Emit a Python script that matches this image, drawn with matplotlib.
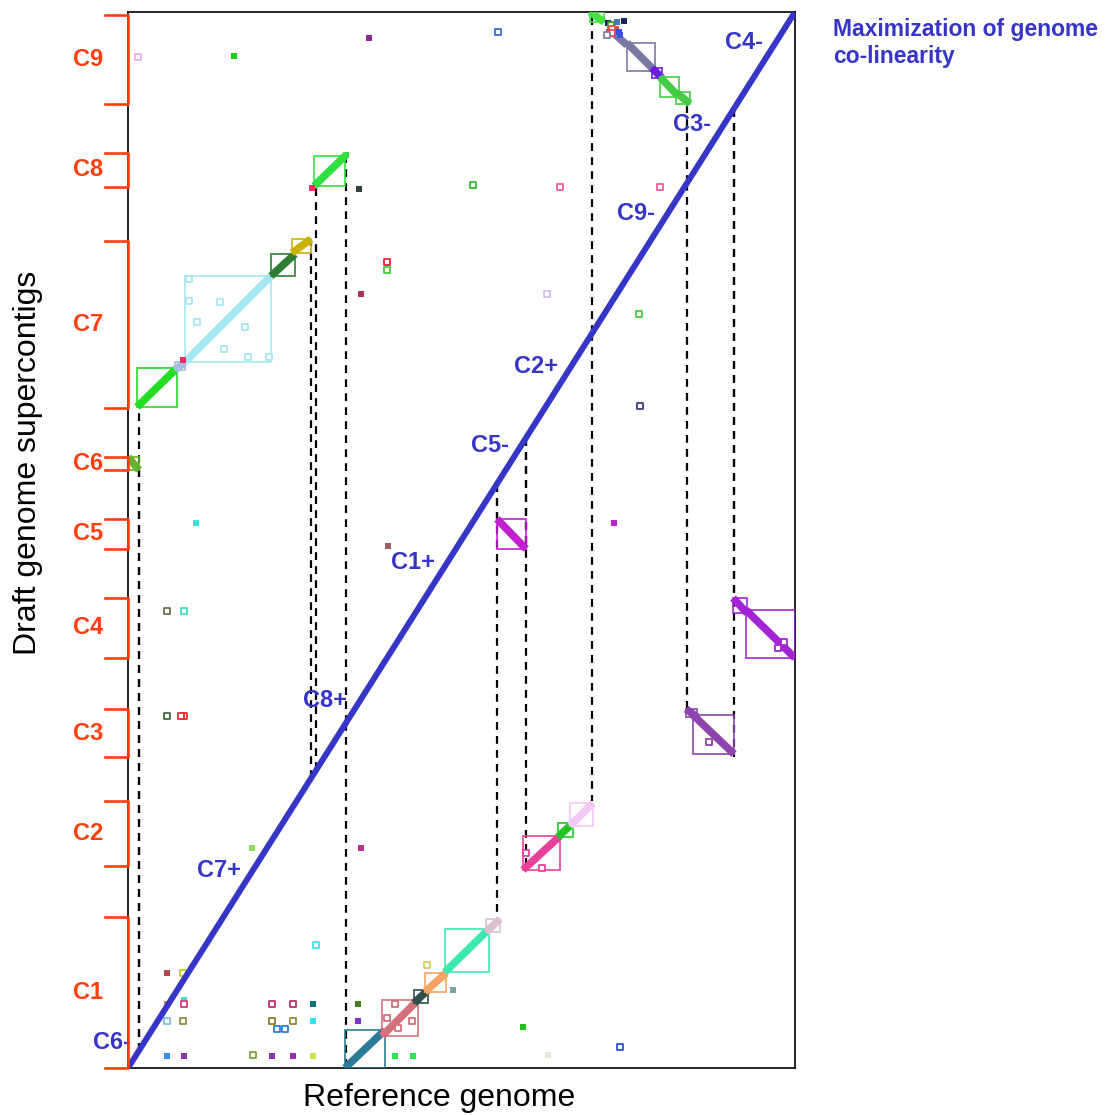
import numpy as np
import matplotlib
matplotlib.use("Agg")
import matplotlib.pyplot as plt
from matplotlib.patches import Rectangle

plt.rcParams['font.family'] = ['Liberation Sans', 'DejaVu Sans']

# all positions in layout units (~10 kb per unit)
REF_LEN = 667
DRAFT_LEN = 1056

# draft supercontigs stacked on the y axis
draft_names = ['C1', 'C2', 'C3', 'C4', 'C5', 'C6', 'C7', 'C8', 'C9']
draft_start = [0, 202, 311, 410, 519, 598, 660, 881, 964]
draft_end = [151, 267, 359, 470, 549, 611, 827, 915, 1053]

# order found along the reference (co-linearity maximized)
ref_names = ['C6-', 'C7+', 'C8+', 'C1+', 'C5-', 'C2+', 'C9-', 'C3-', 'C4-']
ref_start = [0, 11, 188, 218, 369, 398, 464, 559, 606]
ref_end = [11, 183, 218, 369, 398, 464, 559, 606, 667]
ref_label_at = [16, 125, 232, 319, 393, 443, 540, 596, 648]

# aligned blocks: ref x0 -> x1, draft y0 -> y1
blk_x0 = [0, 9, 47, 57, 143, 164, 186, 217, 254, 286, 297, 317, 358, 369,
          395, 430, 442, 462, 482, 499, 524, 532, 548, 558, 565, 605, 618]
blk_x1 = [11, 49, 57, 143, 167, 183, 217, 257, 290, 300, 318, 361, 372, 398,
          432, 445, 465, 476, 499, 527, 534, 551, 562, 569, 606, 619, 667]
blk_y0 = [611, 661, 698, 706, 792, 815, 882, 0, 32, 65, 76, 96, 136, 549,
          198, 231, 242, 1056, 1038, 1025, 1000, 991, 976, 359, 353, 470, 458]
blk_y1 = [598, 700, 706, 792, 814, 829, 912, 38, 68, 78, 95, 139, 149, 519,
          232, 245, 265, 1046, 1023, 997, 990, 971, 964, 351, 314, 455, 410]
blk_col = ['#62b52a', '#22dd22', '#a8bce0', '#a6e6f2', '#2e7d32', '#c8b400',
           '#2ee040', '#2b7b98', '#d4707c', '#2f4f4f', '#f4a460', '#3de8b0',
           '#dcc0d0', '#c21fd0', '#e8409a', '#22c522', '#f4c8f4', '#44e044',
           '#7a78a0', '#7a78a0', '#6a1ee0', '#44cc44', '#44cc44', '#8e44ad',
           '#8e44ad', '#a224d4', '#a224d4']
blk_box = [True] * len(blk_x0)
blk_box[18] = False

# small stray hits (filled squares)
dot_x = [39, 39, 56, 39, 56, 185, 185, 144, 165, 185, 230, 230, 267, 285,
         325, 395, 420, 68, 260, 486, 124, 233, 233, 231, 106, 241, 480, 489,
         496, 488, 481, 488, 491, 492, 55, 184, 218]
dot_y = [95, 64, 68, 12, 12, 64, 47, 12, 12, 12, 64, 47, 12, 12,
         78, 41, 13, 545, 522, 545, 220, 220, 774, 879, 1012, 1030, 1045, 1046,
         1047, 1039, 1036, 1036, 1036, 1033, 708, 880, 913]
dot_c = ['#b04848', '#e08070', '#40e0d0', '#3090f0', '#9030b0', '#107080',
         '#30e0f0', '#9030b0', '#9030b0', '#d0e040', '#4a8020', '#8030d0',
         '#30e050', '#30e050', '#80a0a0', '#20c020', '#e8e8d8', '#40e0d0',
         '#a06060', '#c020d0', '#90e060', '#c03090', '#b03050', '#304040',
         '#10d010', '#8a2890', '#202050', '#5070c0', '#202060', '#e05030',
         '#d03080', '#3050f0', '#3050f0', '#4050e0', '#f03060', '#f03060',
         '#2ee040']

# small stray hits (open squares)
ring_x = [55, 56, 39, 55, 144, 165, 144, 165, 149, 157, 125, 188, 299, 492,
          39, 56, 39, 56, 53, 512, 511, 419, 259, 259, 345, 432, 532, 10, 370,
          61, 61, 92, 69, 117, 96, 120, 141, 267, 259, 284, 270, 398, 414,
          581, 656, 650, 483, 484, 484, 479]
ring_y = [95, 64, 47, 47, 64, 64, 47, 47, 39, 39, 13, 123, 103, 21,
          457, 457, 352, 352, 352, 662, 754, 774, 806, 798, 883, 881, 881, 1011,
          1036, 789, 767, 766, 746, 741, 719, 711, 711, 64, 50, 47, 40, 215, 200,
          326, 426, 420, 1043, 1039, 1035, 1033]
ring_c = ['#c8c830', '#d03880', '#80c0e0', '#909040', '#c03070', '#c03070',
          '#808030', '#909030', '#2080e0', '#2080e0', '#80a040', '#40e0f0',
          '#d0d060', '#3050e0', '#707050', '#40e0c0', '#407040', '#e03030',
          '#e03030', '#404080', '#40d040', '#d0c0f0', '#f02040', '#40d040',
          '#30c030', '#f060a0', '#f060a0', '#e0b0f0', '#3070d0',
          '#a6e6f2', '#a6e6f2', '#a6e6f2', '#a6e6f2', '#a6e6f2', '#a6e6f2',
          '#a6e6f2', '#a6e6f2', '#d4707c', '#d4707c', '#d4707c', '#d4707c',
          '#e8409a', '#e8409a', '#8e44ad', '#a224d4', '#a224d4', '#30a030',
          '#e05030', '#f04060', '#8080a0']

DIAG = '#3535c8'
RED = '#ff3d0d'

fig = plt.figure(figsize=(11.09, 11.15), dpi=100)
ax = fig.add_axes([128 / 1109, 1 - 1068 / 1115, 667 / 1109, 1056 / 1115])
ax.set_xlim(0, REF_LEN)
ax.set_ylim(0, DRAFT_LEN)
ax.set_xticks([])
ax.set_yticks([])
for s in ax.spines.values():
    s.set_linewidth(1.2)


def diag(x):
    return x * DRAFT_LEN / REF_LEN


# dashed guides from the diagonal to each placed supercontig
lookup = dict(zip(draft_names, zip(draft_start, draft_end)))
for name, xs, xe in zip(ref_names, ref_start, ref_end):
    d0, d1 = lookup[name[:-1]]
    if name.endswith('+'):
        ys, ye = d0, d1
    else:
        ys, ye = d1, d0
    for x, y in ((xs, ys), (xe, ye)):
        if x == 0 or x == REF_LEN:
            continue  # sits on the frame
        ax.plot([x, x], [diag(x), y], color='black', lw=1.6,
                dashes=(3.5, 2.8), zorder=1)

# aligned blocks
for x0, x1, y0, y1, c, b in zip(blk_x0, blk_x1, blk_y0, blk_y1, blk_col, blk_box):
    ax.plot([x0, x1], [y0, y1], color=c, lw=5.5, solid_capstyle='butt', zorder=3)
    if b:
        ax.add_patch(Rectangle((min(x0, x1), min(y0, y1)), abs(x1 - x0),
                               abs(y1 - y0), fill=False, ec=c, lw=1.4,
                               alpha=0.85, zorder=3))

ax.scatter(dot_x, dot_y, s=24, marker='s', c=dot_c, linewidths=0, zorder=4)
ax.scatter(ring_x, ring_y, s=18, marker='s', facecolors='white',
           edgecolors=ring_c, linewidths=1.3, zorder=4)

# co-linearity diagonal
ax.plot([0, REF_LEN], [0, DRAFT_LEN], color=DIAG, lw=4.3, zorder=5,
        solid_capstyle='butt')
for name, x in zip(ref_names, ref_label_at):
    ax.annotate(name, xy=(x, diag(x)), xytext=(-9, 0), textcoords='offset points',
                ha='right', va='center', color=DIAG, fontsize=17,
                fontweight='bold', zorder=6)

# supercontig brackets on the left
tr = ax.get_yaxis_transform()
for name, y0, y1 in zip(draft_names, draft_start, draft_end):
    ax.plot([-0.035, 0, 0, -0.035], [y0, y0, y1, y1], color=RED, lw=1.9,
            transform=tr, clip_on=False, zorder=6)
    ax.text(-0.06, (y0 + y1) / 2, name, transform=tr, ha='center', va='center',
            color=RED, fontsize=17, fontweight='bold')

fig.text(439 / 1109, 1 - 1098 / 1115, 'Reference genome', ha='center',
         va='center', fontsize=23)
fig.text(28 / 1109, 1 - 463 / 1115, 'Draft genome supercontigs', ha='center',
         va='center', rotation=90, fontsize=23)
fig.text(833 / 1109, 1 - 18 / 1115, 'Maximization of genome\nco-linearity',
         ha='left', va='top', color=DIAG, fontsize=16.5, fontweight='bold',
         linespacing=1.25)

fig.savefig('out.png', dpi=100)
